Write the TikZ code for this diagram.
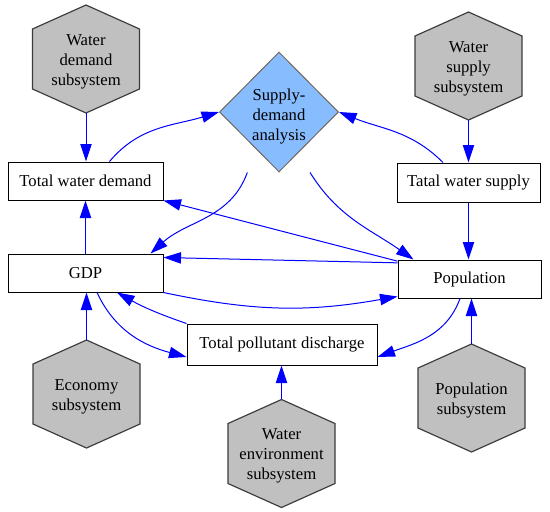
\documentclass[tikz,border=0pt]{standalone}
\usepackage{fontspec}
\setmainfont{Liberation Serif}
\usepackage{tikz}
\usetikzlibrary{arrows.meta,shapes.geometric}
\definecolor{hexgray}{RGB}{192,192,192}
\definecolor{hexline}{RGB}{60,60,60}
\definecolor{diafill}{RGB}{135,188,255}
\definecolor{dialine}{RGB}{115,105,95}

\begin{document}
\begin{tikzpicture}[x=0.6pt,y=0.6pt,
		font=\rmfamily\fontsize{10}{12}\selectfont,
		hexa/.style={fill=hexgray,draw=hexline,line width=0.7pt},
		hexnode/.style={minimum width=64.2pt,minimum height=64.8pt,inner sep=0pt,
			label={[align=center,yshift=-1.6pt]center:#1}},
		stockbox/.style={draw=black,line width=0.6pt,fill=white,inner sep=0pt,align=center},
		link/.style={blue,line width=0.6pt,-{Triangle[length=10.5pt,width=6.8pt]}}]
		\useasboundingbox (0,0) rectangle (550,-511);
		\filldraw[hexa] (86,-59) +(0,54) -- +(53.5,30) -- +(53.5,-30) -- +(0,-54) -- +(-53.5,-30) -- +(-53.5,30) -- cycle;
		\filldraw[hexa] (468.5,-66) +(0,54) -- +(53.5,30) -- +(53.5,-30) -- +(0,-54) -- +(-53.5,-30) -- +(-53.5,30) -- cycle;
		\filldraw[hexa] (86.5,-394) +(0,54) -- +(53.5,30) -- +(53.5,-30) -- +(0,-54) -- +(-53.5,-30) -- +(-53.5,30) -- cycle;
		\filldraw[hexa] (281.5,-453.5) +(0,54) -- +(53.5,30) -- +(53.5,-30) -- +(0,-54) -- +(-53.5,-30) -- +(-53.5,30) -- cycle;
		\filldraw[hexa] (471.5,-398) +(0,54) -- +(53.5,30) -- +(53.5,-30) -- +(0,-54) -- +(-53.5,-30) -- +(-53.5,30) -- cycle;
		\node[hexnode={Water\\demand\\subsystem}] (wds) at (86,-59) {};
		\node[hexnode={Water\\supply\\subsystem}] (wss) at (468.5,-66) {};
		\node[hexnode={Economy\\subsystem}] (eco) at (86.5,-394) {};
		\node[hexnode={Water\\environment\\subsystem}] (wen) at (281.5,-453.5) {};
		\node[hexnode={Population\\subsystem}] (pss) at (471.5,-398) {};
		\node[stockbox,minimum width=93pt,minimum height=22.8pt] (twd) at (85.5,-181) {Total water demand};
		\node[stockbox,minimum width=93pt,minimum height=22.8pt] (gdp) at (85.5,-273) {GDP};
		\node[stockbox,minimum width=85.8pt,minimum height=23.4pt] (tws) at (468.5,-182.5) {Tatal water supply};
		\node[stockbox,minimum width=85.8pt,minimum height=22.8pt] (pop) at (469.5,-279) {Population};
		\node[stockbox,minimum width=114pt,minimum height=24.6pt] (tpd) at (282,-344.5) {Total pollutant discharge};
		\node[diamond,draw=dialine,fill=diafill,line width=0.6pt,inner sep=0pt,aspect=1,
			minimum width=71.4pt,minimum height=72pt,
			label={[align=center,yshift=-3pt]center:Supply-\\demand\\analysis}] (sda) at (279,-112) {};
		\draw[link] (wds.south) -- (wds.south |- twd.north);
		\draw[link] (wss.south) -- (tws.north);
		\draw[link] (tws.south) -- (tws.south |- pop.north);
		\draw[link] (gdp.north) -- (twd.south);
		\draw[link] (eco.north) -- (eco.north |- gdp.south);
		\draw[link] (pss.north) -- (pss.north |- pop.south);
		\draw[link] (wen.north) -- (wen.north |- tpd.south);
		\draw[link] ([xshift=14.4pt]twd.north) to[out=50,in=197] (sda.west);
		\draw[link] ([xshift=-15.3pt]tws.north) to[out=135,in=-22] (sda.east);
		\draw[link] ([xshift=-19pt]sda.south) to[out=-110,in=42] ([xshift=-7.8pt]gdp.north east);
		\draw[link] ([xshift=18.6pt]sda.south) to[out=-58,in=145] ([xshift=9.6pt]pop.north west);
		\draw[link] ([yshift=-1pt]pop.north west) -- (twd.south east);
		\draw[link] ([yshift=-2pt]pop.north west) -- ([yshift=-2.4pt]gdp.north east);
		\draw[link] (gdp.south east) to[out=-12,in=190] ([yshift=1.2pt]pop.south west);
		\draw[link] ([xshift=6.9pt]gdp.south) to[out=-65,in=165] ([yshift=-7.5pt]tpd.west);
		\draw[link] (tpd.north west) to[bend left=5] ([xshift=18.9pt]gdp.south);
		\draw[link] ([xshift=-5.7pt]pop.south) to[out=-110,in=20] ([yshift=-7.5pt]tpd.east);
	\end{tikzpicture}
\end{document}
